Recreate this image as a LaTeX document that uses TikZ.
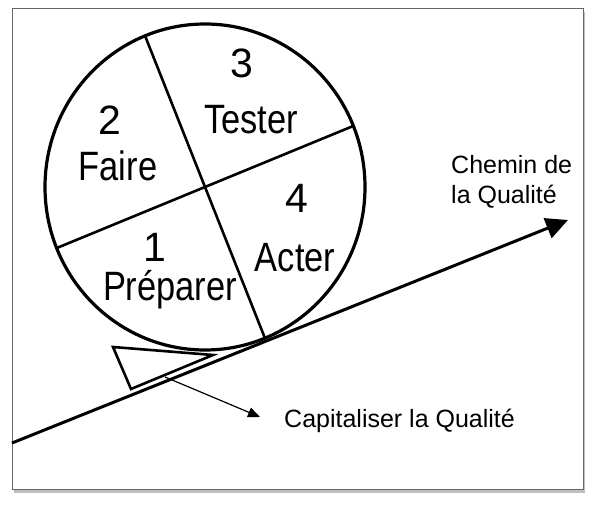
\documentclass[tikz,border=0pt]{standalone}
\usepackage{fontspec}
\setmainfont{Liberation Sans}
\newfontfamily\narrowsans[FakeStretch=0.84]{Liberation Sans}
\usetikzlibrary{arrows.meta,shadows}

\begin{document}
\begin{tikzpicture}[
    x=1pt, y=-1pt,
    frame/.style={draw=black!60, line width=0.8pt, fill=white,
        drop shadow={shadow xshift=2pt, shadow yshift=-4pt, opacity=0.5}},
    wheel/.style={draw, line width=3.2pt},
    split/.style={draw, line width=2.6pt},
    edge/.style={line width=3pt, -{Triangle[length=22pt, width=21pt]}},
    thinedge/.style={line width=1.2pt, -{Triangle[length=12pt, width=10pt]}},
    digit/.style={inner sep=0pt, anchor=base, font=\fontsize{41}{41}\selectfont},
    word/.style={inner sep=0pt, anchor=base, font=\narrowsans\fontsize{41}{41}\selectfont},
    label/.style={inner sep=0pt, font=\fontsize{25}{30}\selectfont, align=left}
]
    \useasboundingbox (0,0) rectangle (594,505);
    \path[frame] (12,8) rectangle (583,489);

    % wheel cut in four
    \coordinate (c) at (205,187);
    \draw[wheel] (c) ellipse [x radius=160, y radius=163];
    \path (c) ++(248:160 and 163) coordinate (a1);
    \path (c) ++(68:160 and 163) coordinate (a2);
    \path (c) ++(158:160 and 163) coordinate (b1);
    \path (c) ++(338:160 and 163) coordinate (b2);
    \draw[split] (a1) -- (a2);
    \draw[split] (b1) -- (b2);

    \node[digit] (d3) at (242,78) {3};
    \node[word] (tester) at (251,134) {Tester};
    \node[digit] (d2) at (110,135) {2};
    \node[word] (faire) at (118,181) {Faire};
    \node[digit] (d4) at (297,212) {4};
    \node[word] (acter) at (295,271) {Acter};
    \node[digit] (d1) at (155,261) {1};
    \node[word] (preparer) at (170,300) {Préparer};

    % slope
    \coordinate (start) at (12,443);
    \coordinate (end) at (568,220);
    \draw[edge] (start) -- (end);
    \node[label, anchor=north west] (chemin) at (451,155) {Chemin de\\la Qualité};

    % wedge
    \coordinate (w1) at (113,347);
    \coordinate (w2) at (131,389);
    \coordinate (w3) at (213,355);
    \draw[line width=2.6pt, line join=miter] (w1) -- (w2) -- (w3) -- cycle;

    \coordinate (cale) at (165,377);
    \coordinate (captip) at (260,417);
    \node[label, anchor=base west] (capi) at (284,427) {Capitaliser la Qualité};
    \draw[thinedge] (cale) -- (captip);
\end{tikzpicture}
\end{document}
